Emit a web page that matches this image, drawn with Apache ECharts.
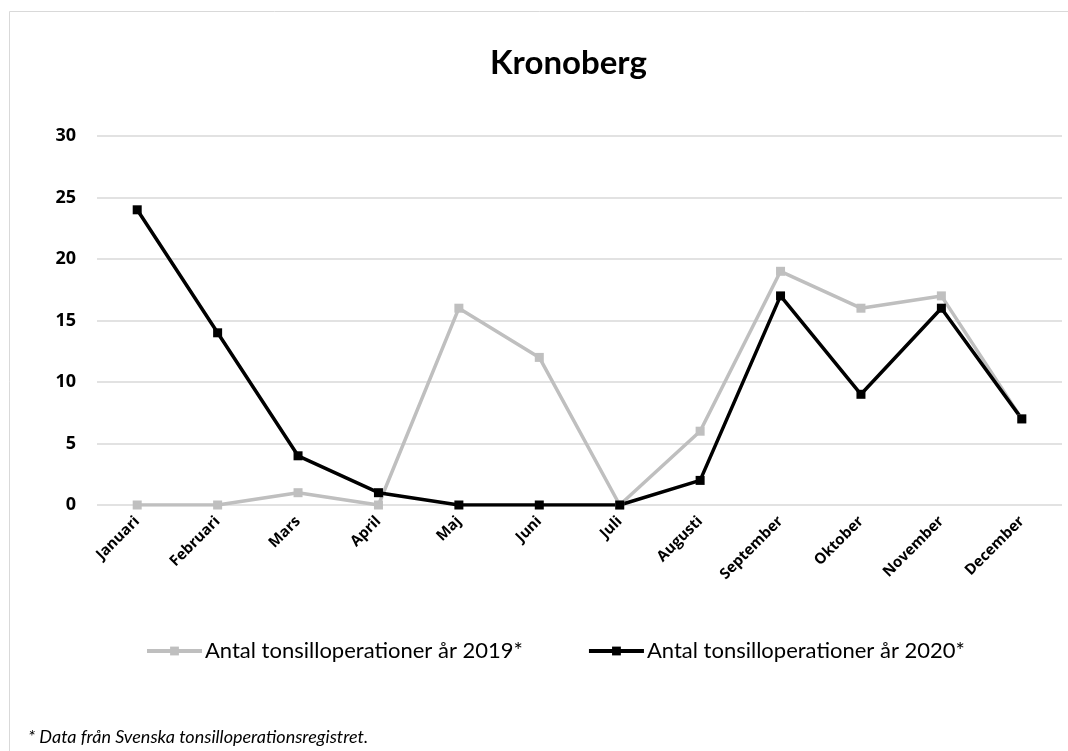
<!DOCTYPE html>
<html>
<head>
<meta charset="utf-8">
<script src="https://cdn.jsdelivr.net/npm/echarts@6/dist/echarts.min.js"></script>
<style>
  html, body { margin: 0; padding: 0; background: #fff; }
  #chart-container { width: 1068px; height: 751px; }
</style>
</head>
<body>
<div id="chart-container"></div>
<script>
const months = ["Januari", "Februari", "Mars", "April", "Maj", "Juni", "Juli", "Augusti", "September", "Oktober", "November", "December"]
const ops2019 = [0, 0, 1, 0, 16, 12, 0, 6, 19, 16, 17, 7]
const ops2020 = [24, 14, 4, 1, 0, 0, 0, 2, 17, 9, 16, 7]
const seriesNames = ["Antal tonsilloperationer år 2019*", "Antal tonsilloperationer år 2020*"]

var dom = document.getElementById("chart-container")
var myChart = echarts.init(dom, null, { renderer: "canvas" })

const commonSerieOptions = {
  type: "line",
  symbol: "rect",
  symbolSize: 9,
  animation: false,
  lineStyle: { width: 3 }
}

var option = {
  animation: false,
  title: {
    text: "Kronoberg",
    left: 485,
    top: 42,
    textStyle: { fontFamily: "Lato", fontSize: 33, fontWeight: "bold", color: "#000" }
  },
  legend: {
    left: 140,
    top: 635,
    itemWidth: 55,
    itemHeight: 11,
    itemGap: 64,
    lineStyle: { width: 4 },
    textStyle: { fontFamily: "Lato", fontSize: 22, color: "#000", padding: [0, 0, 0, -2] },
    data: seriesNames
  },
  graphic: [
    {
      type: "rect",
      shape: { x: 9.5, y: 11.5, width: 1100, height: 800 },
      style: { fill: "none", stroke: "#d9d9d9", lineWidth: 1 },
      silent: true
    },
    {
      type: "text",
      left: 28,
      top: 728,
      style: {
        text: "* Data från Svenska tonsilloperationsregistret.",
        font: "italic 18px Lato",
        fill: "#000"
      }
    }
  ],
  grid: { left: 97, right: 6, top: 136, bottom: 246 },
  xAxis: {
    type: "category",
    data: months,
    boundaryGap: true,
    axisLine: { show: false },
    axisTick: { show: false },
    axisLabel: {
      rotate: 45,
      margin: 14,
      fontFamily: "Open Sans",
      fontWeight: "bold",
      fontSize: 15,
      color: "#000"
    }
  },
  yAxis: {
    type: "value",
    min: 0,
    max: 30,
    interval: 5,
    axisLine: { show: false },
    axisTick: { show: false },
    axisLabel: {
      margin: 21,
      fontFamily: "Open Sans",
      fontWeight: "bold",
      fontSize: 18,
      color: "#000"
    },
    splitLine: { lineStyle: { color: "#d9d9d9", width: 1.5 } }
  },
  series: [
    {
      ...commonSerieOptions,
      name: seriesNames[0],
      data: ops2019,
      itemStyle: { color: "#bfbfbf" },
      lineStyle: { width: 3.5, color: "#bfbfbf" }
    },
    {
      ...commonSerieOptions,
      name: seriesNames[1],
      data: ops2020,
      itemStyle: { color: "#000" },
      lineStyle: { width: 3.5, color: "#000" }
    }
  ]
}

myChart.setOption(option)
window.addEventListener("resize", myChart.resize)
</script>
</body>
</html>
